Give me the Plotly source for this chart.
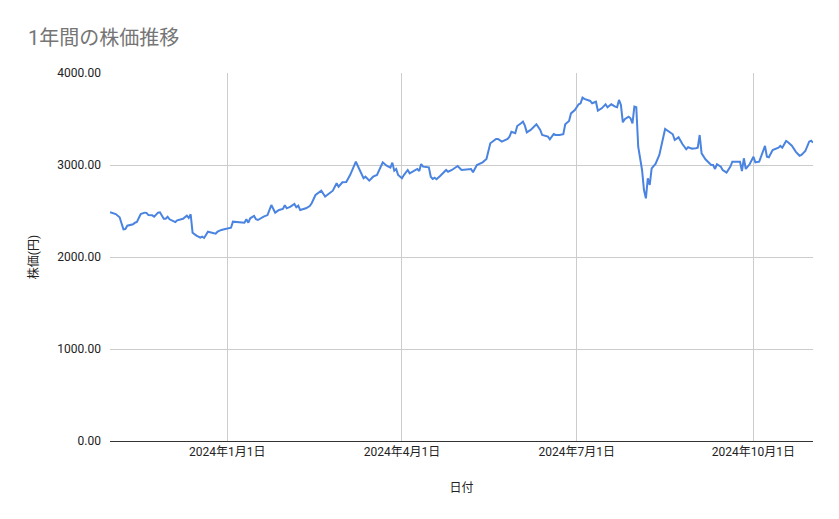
import plotly.graph_objects as go

# 日付と終値
dates = [
    "2023-11-01", "2023-11-04", "2023-11-06", "2023-11-08", "2023-11-09", "2023-11-10",
    "2023-11-13", "2023-11-14", "2023-11-15", "2023-11-17", "2023-11-19", "2023-11-20",
    "2023-11-21", "2023-11-23", "2023-11-24", "2023-11-26", "2023-11-27", "2023-11-29",
    "2023-11-30", "2023-12-01", "2023-12-02", "2023-12-05", "2023-12-06", "2023-12-09",
    "2023-12-11", "2023-12-12", "2023-12-13", "2023-12-14", "2023-12-16", "2023-12-18",
    "2023-12-19", "2023-12-20", "2023-12-22", "2023-12-23", "2023-12-26", "2023-12-27",
    "2023-12-29", "2023-12-31", "2024-01-03", "2024-01-04", "2024-01-07", "2024-01-10",
    "2024-01-11", "2024-01-12", "2024-01-13", "2024-01-15", "2024-01-16", "2024-01-17",
    "2024-01-20", "2024-01-22", "2024-01-24", "2024-01-26", "2024-01-28", "2024-01-30",
    "2024-01-31", "2024-02-01", "2024-02-03", "2024-02-05", "2024-02-06", "2024-02-07",
    "2024-02-08", "2024-02-11", "2024-02-13", "2024-02-14", "2024-02-16", "2024-02-19",
    "2024-02-21", "2024-02-23", "2024-02-25", "2024-02-27", "2024-02-28", "2024-03-01",
    "2024-03-03", "2024-03-05", "2024-03-08", "2024-03-10", "2024-03-12", "2024-03-13",
    "2024-03-15", "2024-03-17", "2024-03-19", "2024-03-22", "2024-03-24", "2024-03-26",
    "2024-03-27", "2024-03-28", "2024-03-29", "2024-03-30", "2024-04-01", "2024-04-02",
    "2024-04-04", "2024-04-05", "2024-04-08", "2024-04-09", "2024-04-10", "2024-04-11",
    "2024-04-12", "2024-04-15", "2024-04-16", "2024-04-17", "2024-04-18", "2024-04-19",
    "2024-04-21", "2024-04-24", "2024-04-25", "2024-04-27", "2024-04-30", "2024-05-02",
    "2024-05-07", "2024-05-08", "2024-05-10", "2024-05-13", "2024-05-15", "2024-05-17",
    "2024-05-20", "2024-05-21", "2024-05-23", "2024-05-26", "2024-05-27", "2024-05-28",
    "2024-05-30", "2024-05-31", "2024-06-02", "2024-06-03", "2024-06-04", "2024-06-05",
    "2024-06-07", "2024-06-10", "2024-06-12", "2024-06-13", "2024-06-16", "2024-06-17",
    "2024-06-19", "2024-06-20", "2024-06-22", "2024-06-24", "2024-06-25", "2024-06-27",
    "2024-06-28", "2024-06-30", "2024-07-02", "2024-07-03", "2024-07-04", "2024-07-05",
    "2024-07-08", "2024-07-09", "2024-07-11", "2024-07-12", "2024-07-14", "2024-07-16",
    "2024-07-17", "2024-07-19", "2024-07-21", "2024-07-22", "2024-07-23", "2024-07-24",
    "2024-07-25", "2024-07-26", "2024-07-28", "2024-07-29", "2024-07-30", "2024-07-31",
    "2024-08-01", "2024-08-02", "2024-08-04", "2024-08-05", "2024-08-06", "2024-08-07",
    "2024-08-08", "2024-08-09", "2024-08-11", "2024-08-13", "2024-08-16", "2024-08-20",
    "2024-08-21", "2024-08-23", "2024-08-25", "2024-08-27", "2024-08-28", "2024-08-30",
    "2024-09-01", "2024-09-02", "2024-09-03", "2024-09-04", "2024-09-06", "2024-09-08",
    "2024-09-09", "2024-09-10", "2024-09-11", "2024-09-12", "2024-09-14", "2024-09-15",
    "2024-09-17", "2024-09-19", "2024-09-20", "2024-09-24", "2024-09-25", "2024-09-26",
    "2024-09-27", "2024-09-29", "2024-10-01", "2024-10-02", "2024-10-04", "2024-10-07",
    "2024-10-08", "2024-10-09", "2024-10-11", "2024-10-14", "2024-10-15", "2024-10-16",
    "2024-10-18", "2024-10-19", "2024-10-21", "2024-10-23", "2024-10-25", "2024-10-26",
    "2024-10-28", "2024-10-30", "2024-10-31", "2024-11-01",
]
prices = [
    2486, 2467, 2432, 2301, 2304, 2340,
    2355, 2373, 2380, 2467, 2482, 2480,
    2456, 2453, 2438, 2482, 2486, 2416,
    2416, 2438, 2410, 2380, 2399, 2416,
    2449, 2424, 2464, 2264, 2232, 2210,
    2221, 2207, 2275, 2268, 2253, 2275,
    2294, 2304, 2318, 2384, 2377, 2373,
    2410, 2373, 2421, 2446, 2410, 2402,
    2438, 2456, 2565, 2482, 2511, 2522,
    2562, 2529, 2547, 2576, 2540, 2558,
    2511, 2529, 2554, 2584, 2674, 2721,
    2656, 2692, 2721, 2801, 2764, 2812,
    2815, 2891, 3036, 2946, 2856, 2873,
    2830, 2873, 2891, 3029, 2993, 2971,
    3025, 2938, 2957, 2891, 2856, 2891,
    2946, 2910, 2946, 2957, 2935, 3011,
    2982, 2975, 2873, 2848, 2862, 2845,
    2884, 2946, 2927, 2946, 2989, 2946,
    2957, 2921, 3000, 3029, 3065, 3236,
    3283, 3283, 3254, 3283, 3308, 3362,
    3345, 3424, 3453, 3471, 3428, 3355,
    3381, 3443, 3381, 3326, 3308, 3279,
    3337, 3326, 3326, 3334, 3443, 3478,
    3561, 3598, 3660, 3671, 3732, 3718,
    3696, 3671, 3688, 3590, 3616, 3660,
    3627, 3660, 3634, 3627, 3707, 3652,
    3464, 3497, 3525, 3508, 3453, 3634,
    3627, 3199, 2946, 2728, 2638, 2856,
    2783, 2964, 3011, 3109, 3391, 3334,
    3272, 3301, 3228, 3171, 3193, 3178,
    3182, 3188, 3326, 3127, 3062, 3025,
    3000, 3000, 2957, 3008, 2982, 2946,
    2917, 2982, 3036, 3036, 2935, 3073,
    2957, 3008, 3090, 3029, 3036, 3207,
    3090, 3084, 3163, 3188, 3207, 3188,
    3261, 3247, 3210, 3145, 3101, 3109,
    3152, 3254, 3264, 3243,
]

x_tick_vals = ["2024-01-01", "2024-04-01", "2024-07-01", "2024-10-01"]
x_tick_text = ["2024年1月1日", "2024年4月1日", "2024年7月1日", "2024年10月1日"]
y_tick_vals = [0, 1000, 2000, 3000, 4000]

FONT = "Roboto, 'Noto Sans CJK JP', sans-serif"

fig = go.Figure()
fig.add_trace(go.Scatter(
    x=dates, y=prices, mode="lines",
    line=dict(color="#4a84e0", width=2),
    showlegend=False,
))

# ページ本体の余白 (8px) を差し引いた位置
fig.update_layout(
    width=839, height=519,
    margin=dict(l=102, r=34, t=65, b=86),
    paper_bgcolor="white", plot_bgcolor="white",
    font=dict(family=FONT, size=12, color="#222222"),
    title=dict(
        text="1年間の株価推移",
        font=dict(family=FONT, size=20, color="#757575"),
        x=20 / 839, xref="container", xanchor="left",
        y=1 - 30 / 519, yref="container", yanchor="middle",
    ),
)
fig.update_xaxes(
    type="date",
    range=[dates[0], dates[-1]],
    tickvals=x_tick_vals, ticktext=x_tick_text,
    showgrid=True, gridcolor="#cccccc", gridwidth=1,
    showline=True, linecolor="#333333", linewidth=1,
    ticks="", zeroline=False,
    tickfont=dict(size=12, color="#222222"),
    title=dict(text="日付", font=dict(size=12, color="#222222"), standoff=25),
)
fig.update_yaxes(
    range=[0, 4000],
    tickvals=y_tick_vals, tickformat=".2f",
    showgrid=True, gridcolor="#cccccc", gridwidth=1,
    zeroline=False, showline=False,
    ticks="", ticklabelstandoff=8,
    tickfont=dict(size=12, color="#222222"),
    title=dict(text="株価(円)", font=dict(size=12, color="#222222"), standoff=16),
)

fig.write_html("out.html")
